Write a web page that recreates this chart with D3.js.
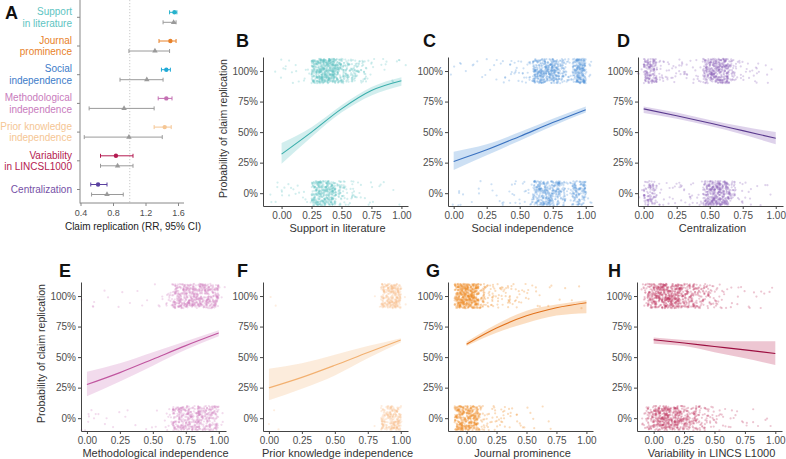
<!DOCTYPE html>
<html><head><meta charset="utf-8">
<script src="https://cdn.jsdelivr.net/npm/d3@7"></script>
<style>body{margin:0;background:#fff} svg{display:block} text{font-family:"Liberation Sans",Arial,sans-serif}</style>
</head><body><svg id="c" width="786" height="459"></svg>
<script>
// ---------- Panel A: relative risks ----------
const factorLines = [["Support","in literature"],["Journal","prominence"],["Social","independence"],["Methodological","independence"],["Prior knowledge","independence"],["Variability","in LINCSL1000"],["Centralization"]];
const factorColors = ["#5ec4c2","#e8822a","#3d7cc9","#c97cbd","#f5c694","#b41a50","#7650a6"];
const markerColors = ["#27b2cc","#e8822a","#1fa9d6","#c470b3","#f5c694","#b41a50","#5a41a0"];
const rrEst  = [1.55,1.50,1.45,1.45,1.43,0.83,0.61];
const rrLow  = [1.49,1.36,1.39,1.35,1.30,0.64,0.52];
const rrHigh = [1.58,1.57,1.50,1.52,1.51,1.04,0.72];
const rrAdjEst  = [1.54,1.31,1.21,0.93,0.99,0.85,0.72];
const rrAdjLow  = [1.41,0.99,0.88,0.50,0.44,0.64,0.53];
const rrAdjHigh = [1.57,1.49,1.41,1.30,1.40,1.04,0.92];
const rrTicks = [0.4,0.8,1.2,1.6];

// ---------- Panels B-H: fitted probability curves ----------
const curveX = [0,0.25,0.5,0.75,1];
const fitB=[0.32,0.50,0.69,0.84,0.92], loB=[0.24,0.46,0.66,0.80,0.88], hiB=[0.41,0.54,0.72,0.87,0.95];
const fitC=[0.26,0.355,0.465,0.578,0.684], loC=[0.19,0.31,0.43,0.55,0.66], hiC=[0.34,0.40,0.50,0.61,0.71];
const fitD=[0.69,0.634,0.574,0.512,0.45], loD=[0.657,0.61,0.55,0.48,0.40], hiD=[0.71,0.66,0.60,0.545,0.50];
const fitE=[0.275,0.373,0.483,0.594,0.697], loE=[0.18,0.30,0.43,0.56,0.67], hiE=[0.38,0.45,0.54,0.63,0.72];
const fitF=[0.248,0.334,0.433,0.538,0.64], loF=[0.146,0.24,0.35,0.49,0.62], hiF=[0.405,0.45,0.52,0.59,0.655];
const fitG=[0.606,0.738,0.838,0.904,0.945], loG=[0.59,0.70,0.78,0.84,0.86], hiG=[0.625,0.77,0.88,0.93,0.965];
const fitH=[0.642,0.615,0.587,0.559,0.53], loH=[0.61,0.59,0.54,0.49,0.435], hiH=[0.66,0.64,0.63,0.63,0.63];

// jittered observations: counts per 0.05-wide x bin, for replicated (top) and not replicated (bottom)
const binStartB=-0.15, topB=[0,1,2,3,3,3,2,3,95,130,130,130,80,48,40,32,19,8,3,2,3,2,3,1], botB=[0,2,3,4,4,3,3,3,80,95,95,88,32,19,12,7,3,3,2,2,1,1,1,0];
const binStartC=-0.05, topC=[1,2,2,1,2,2,2,3,5,6,8,7,12,80,95,95,88,45,14,95,120,6], botC=[1,3,2,1,2,1,2,2,3,4,5,6,8,64,80,80,72,40,12,64,64,4];
const binStartD=-0.05, topD=[3,80,72,12,8,8,7,8,7,8,64,95,95,88,32,8,6,5,5,3,1,0], botD=[2,48,45,7,5,5,6,6,6,8,72,105,105,88,28,8,3,3,2,2,1,0];
const binStartE=-0.05, topE=[1,2,1,1,1,1,1,1,1,1,1,2,3,15,72,80,88,88,88,80,80,3], botE=[2,4,3,2,1,1,1,1,1,1,1,2,2,9,64,72,72,72,64,64,56,3];
const binStartF=-0.05, topF=[0,1,1,0,0,0,0,0,0,0,0,0,0,0,0,0,0,2,80,110,110,3], botF=[0,2,1,0,0,0,0,0,0,0,0,0,0,0,0,0,0,1,64,88,88,2];
const binStartG=-0.15, topG=[0,110,130,130,120,40,15,15,12,12,10,8,5,4,3,2,2,1,1,1,1,1,1,0], botG=[0,88,95,95,88,24,9,9,9,7,5,4,3,2,2,1,1,1,0,0,0,0,0,0];
const binStartH=-0.15, topH=[0,15,64,88,95,95,88,72,56,48,32,28,18,12,7,4,3,2,2,2,2,1,2,0], botH=[0,12,48,72,88,88,80,64,48,40,28,18,14,8,5,4,3,2,2,2,1,2,1,0];

const panelLetters=["B","C","D","E","F","G","H"];
const xTitles=["Support in literature","Social independence","Centralization","Methodological independence","Prior knowledge independence","Journal prominence","Variability in LINCS L1000"];
const pointColors=["#5cc3c1","#4a8fd8","#8a5cb8","#d27fc0","#f6bb82","#f08a24","#c0325f"];
const lineColors=["#3aaeab","#3a72c0","#5a3a8e","#c0559f","#f2b070","#e0701a","#9c0f40"];
const yTicks=[0,0.25,0.5,0.75,1];
const xTicks=[0,0.25,0.5,0.75,1];

const svg=d3.select("#c");

// deterministic jitter offsets (hash of point index) — like geom_jitter, position only
function hash01(n){
  let t=(n*2654435761)>>>0; t^=t>>>15; t=Math.imul(t,0x2c1b3c6d)>>>0; t^=t>>>12; t=Math.imul(t,0x297a2d39)>>>0; t^=t>>>15;
  return (t>>>0)/4294967296;
}

// ================= Panel A =================
(function(){
  const g=svg.append("g");
  const x=d3.scaleLinear().domain([0.4,1.6]).range([81,178.5]);
  const yc=i=>17.3+i*28.7;
  const top=0,bottom=203,left=80,right=184;
  g.append("line").attr("x1",x(1)).attr("x2",x(1)).attr("y1",top).attr("y2",bottom)
    .attr("stroke","#bdbdbd").attr("stroke-width",0.8).attr("stroke-dasharray","1.2,1.8");
  g.append("line").attr("x1",left).attr("x2",left).attr("y1",top).attr("y2",bottom+0.5).attr("stroke","#888").attr("stroke-width",1);
  g.append("line").attr("x1",left).attr("x2",right).attr("y1",bottom).attr("y2",bottom).attr("stroke","#888").attr("stroke-width",1);
  rrTicks.forEach(t=>{
    g.append("line").attr("x1",x(t)).attr("x2",x(t)).attr("y1",bottom).attr("y2",bottom+3).attr("stroke","#888");
    g.append("text").attr("x",x(t)).attr("y",bottom+10).attr("text-anchor","middle").attr("dominant-baseline","central")
      .attr("font-size",9).attr("fill","#4d4d4d").text(d3.format(".1f")(t));
  });
  g.append("text").attr("x",133).attr("y",226).attr("text-anchor","middle").attr("dominant-baseline","central")
    .attr("font-size",10).attr("fill","#222").text("Claim replication (RR, 95% CI)");
  factorLines.forEach((lines,i)=>{
    const c=yc(i);
    g.append("line").attr("x1",left-3).attr("x2",left).attr("y1",c).attr("y2",c).attr("stroke","#888");
    lines.forEach((ln,j)=>{
      const dy = lines.length===1?0:(j===0?-5.8:5.8);
      g.append("text").attr("x",72).attr("y",c+dy).attr("text-anchor","end").attr("dominant-baseline","central")
        .attr("font-size",10).attr("fill",factorColors[i]).text(ln);
    });
    const yc1=c-5, yc2=c+5;
    const drawBar=(lo,hi,yy,col)=>{
      g.append("line").attr("x1",x(lo)).attr("x2",x(hi)).attr("y1",yy).attr("y2",yy).attr("stroke",col).attr("stroke-width",1);
      [lo,hi].forEach(v=>g.append("line").attr("x1",x(v)).attr("x2",x(v)).attr("y1",yy-2).attr("y2",yy+2).attr("stroke",col).attr("stroke-width",1));
    };
    drawBar(rrLow[i],rrHigh[i],yc1,markerColors[i]);
    g.append("circle").attr("cx",x(rrEst[i])).attr("cy",yc1).attr("r",2.2).attr("fill",markerColors[i]);
    drawBar(rrAdjLow[i],rrAdjHigh[i],yc2,"#9a9a9a");
    g.append("path").attr("d",d3.symbol(d3.symbolTriangle,13)()).attr("transform",`translate(${x(rrAdjEst[i])},${yc2})`).attr("fill","#9a9a9a");
  });
  svg.append("text").attr("x",5).attr("y",19).attr("font-family","'Liberation Serif',serif").attr("font-weight","bold")
    .attr("font-size",18).attr("fill","#111").text("A");
})();

// ================= Panels B-H =================
const panels=[
 {fit:fitB,lo:loB,hi:hiB,bs:binStartB,top:topB,bot:botB,dom:[-0.155,1.055],xr:[263,408],yr:[57,206],lx:236,ly:46.5,ytitle:true},
 {fit:fitC,lo:loC,hi:hiC,bs:binStartC,top:topC,bot:botC,dom:[-0.043,1.055],xr:[448,593],yr:[57,206],lx:423,ly:46.5},
 {fit:fitD,lo:loD,hi:hiD,bs:binStartD,top:topD,bot:botD,dom:[-0.043,1.055],xr:[638,783],yr:[57,206],lx:617,ly:46.5},
 {fit:fitE,lo:loE,hi:hiE,bs:binStartE,top:topE,bot:botE,dom:[-0.045,1.055],xr:[81,226],yr:[282,431],lx:59,ly:276.5,ytitle:true},
 {fit:fitF,lo:loF,hi:hiF,bs:binStartF,top:topF,bot:botF,dom:[-0.045,1.055],xr:[263,408],yr:[282,431],lx:237,ly:276.5},
 {fit:fitG,lo:loG,hi:hiG,bs:binStartG,top:topG,bot:botG,dom:[-0.155,1.055],xr:[448,593],yr:[282,431],lx:426,ly:276.5},
 {fit:fitH,lo:loH,hi:hiH,bs:binStartH,top:topH,bot:botH,dom:[-0.137,1.055],xr:[637,782],yr:[282,431],lx:608,ly:276.5}
];
const pointOpacity=[0.28,0.28,0.28,0.28,0.26,0.3,0.28];
panels.forEach((p,pi)=>{
  const g=svg.append("g");
  const x=d3.scaleLinear().domain(p.dom).range(p.xr);
  const y=d3.scaleLinear().domain([-0.105,1.115]).range([p.yr[1],p.yr[0]]);
  const col=pointColors[pi];
  const pts=[];
  let id=pi*100000;
  [[p.top,1],[p.bot,0]].forEach(([counts,base])=>{
    counts.forEach((n,b)=>{
      const x0=p.bs+b*0.05;
      for(let k=0;k<n;k++){
        id++;
        const u=hash01(id*2+1), v=hash01(id*2+7919);
        pts.push([x0+0.05*u, base+(v-0.5)*0.2]);
      }
    });
  });
  g.append("g").selectAll("circle").data(pts).join("circle")
    .attr("cx",d=>x(d[0])).attr("cy",d=>y(d[1])).attr("r",1.1)
    .attr("fill",col).attr("fill-opacity",pointOpacity[pi]);
  const idx=d3.range(curveX.length);
  g.append("path").datum(idx).attr("d",d3.area().curve(d3.curveMonotoneX)
      .x(i=>x(curveX[i])).y0(i=>y(p.lo[i])).y1(i=>y(p.hi[i])))
    .attr("fill",col).attr("fill-opacity",0.28);
  g.append("path").datum(idx).attr("d",d3.line().curve(d3.curveMonotoneX)
      .x(i=>x(curveX[i])).y(i=>y(p.fit[i])))
    .attr("fill","none").attr("stroke",lineColors[pi]).attr("stroke-width",1.1);
  const ax=g.append("g").attr("transform",`translate(0,${p.yr[1]})`)
    .call(d3.axisBottom(x).tickValues(xTicks).tickFormat(d3.format(".2f")).tickSize(3).tickPadding(2.5).tickSizeOuter(0));
  const ay=g.append("g").attr("transform",`translate(${p.xr[0]},0)`)
    .call(d3.axisLeft(y).tickValues(yTicks).tickFormat(d3.format(".0%")).tickSize(3).tickPadding(2).tickSizeOuter(0));
  [ax,ay].forEach(a=>{
    a.select(".domain").attr("stroke","#444").attr("stroke-width",1);
    a.selectAll(".tick line").attr("stroke","#444");
    a.selectAll(".tick text").attr("fill","#4d4d4d").attr("font-size",10).attr("font-family","'Liberation Sans',Arial,sans-serif");
  });
  g.append("text").attr("x",(p.xr[0]+p.xr[1])/2+2).attr("y",p.yr[1]+22).attr("text-anchor","middle").attr("dominant-baseline","central")
    .attr("font-size",11).attr("fill","#333").text(xTitles[pi]);
  if(p.ytitle){
    g.append("text").attr("transform",`translate(${p.xr[0]-40},${(p.yr[0]+p.yr[1])/2-3}) rotate(-90)`)
      .attr("text-anchor","middle").attr("dominant-baseline","central").attr("font-size",10.5).attr("fill","#333")
      .text("Probability of claim replication");
  }
  svg.append("text").attr("x",p.lx).attr("y",p.ly).attr("font-family","'Liberation Serif',serif").attr("font-weight","bold")
    .attr("font-size",18).attr("fill","#111").text(panelLetters[pi]);
});
</script></body></html>
